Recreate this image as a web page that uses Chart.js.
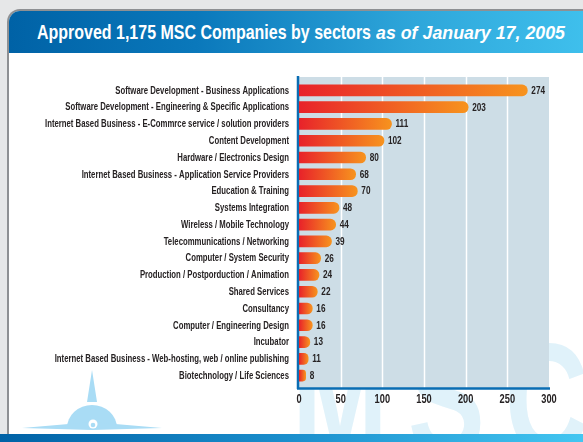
<!DOCTYPE html>
<html>
<head>
<meta charset="utf-8">
<script src="https://cdn.jsdelivr.net/npm/chart.js@4.4.1/dist/chart.umd.min.js"></script>
<style>
  html, body { margin: 0; padding: 0; }
  body { width: 583px; height: 442px; overflow: hidden; background: #e6e7e8; position: relative; font-family: "Liberation Sans", Arial, sans-serif; }
  #panel { position: absolute; left: 7px; top: 9px; width: 620px; height: 460px; background: #ffffff; border-left: 2px solid #8e9093; border-top: 2px solid #8e9093; border-top-left-radius: 13px; overflow: hidden; }
  #header { position: absolute; left: 0; top: 0; width: 100%; height: 42px; background: linear-gradient(to right, #0062a6 0%, #0a78bb 30%, #2ea6da 65%, #43c6f1 100%); }
  .tpart { position: absolute; top: 9px; color: #ffffff; font-weight: bold; white-space: nowrap; transform-origin: left top; line-height: 24px; }
  #t1 { left: 28px; font-size: 21px; }
  #t2 { left: 367px; top: 10px; font-size: 19px; font-style: italic; }
  #watermark { position: absolute; left: 292px; top: 319px; font-family: "Liberation Sans", Arial, sans-serif; font-weight: bold; font-size: 160px; letter-spacing: 28px; color: #e0f2fa; white-space: nowrap; line-height: 1; transform: scaleX(0.72); transform-origin: left top; }
  #footer { position: absolute; left: 0; top: 434px; width: 583px; height: 8px; background: linear-gradient(to right, #0062a6 0%, #1b8fcd 50%, #43c6f1 100%); }
  #logo { position: absolute; left: 0; top: 360px; }
  #c { position: absolute; left: 0; top: 0; }
</style>
</head>
<body>
<div id="panel">
  <div id="header">
    <span id="t1" class="tpart">Approved 1,175 MSC Companies by sectors</span>
    <span id="t2" class="tpart">as of January 17, 2005</span>
  </div>
</div>
<div id="watermark">MSC</div>
<svg id="logo" width="200" height="80" viewBox="0 360 200 80">
  <g fill="#a9dcf5">
    <polygon points="92,370 87,402 97,402"/>
    <path d="M67,428 A25,23 0 0 1 117,428 Z"/>
    <polygon points="22,428 92,422 162,428 92,430"/>
  </g>
  <circle cx="93" cy="424" r="4.5" fill="#ffffff"/>
  <circle cx="93" cy="425" r="2.3" fill="#a9dcf5"/>
</svg>
<div id="footer"></div>
<canvas id="c" width="583" height="442"></canvas>
<script>
const categories = [
  "Software Development - Business Applications",
  "Software Development - Engineering & Specific Applications",
  "Internet Based Business - E-Commrce service / solution providers",
  "Content Development",
  "Hardware / Electronics Design",
  "Internet Based Business - Application Service Providers",
  "Education & Training",
  "Systems Integration",
  "Wireless / Mobile Technology",
  "Telecommunications / Networking",
  "Computer / System Security",
  "Production / Postporduction / Animation",
  "Shared Services",
  "Consultancy",
  "Computer / Engineering Design",
  "Incubator",
  "Internet Based Business - Web-hosting, web / online publishing",
  "Biotechnology / Life Sciences"
];
const companies = [274, 203, 111, 102, 80, 68, 70, 48, 44, 39, 26, 24, 22, 16, 16, 13, 11, 8];
const xTicks = [0, 50, 100, 150, 200, 250, 300];

// condense the title parts to the widths seen in the header
(function () {
  [['t1', 334], ['t2', 189]].forEach(([id, target]) => {
    const el = document.getElementById(id);
    const w = el.getBoundingClientRect().width;
    el.style.transform = 'scaleX(' + (target / w) + ')';
  });
})();

const FONT = '"Liberation Sans", Arial, sans-serif';
const TEXT = '#262223';

function narrowText(ctx, str, x, y, align, sx) {
  ctx.save();
  ctx.translate(x, y);
  ctx.scale(sx, 1);
  ctx.textAlign = align;
  ctx.fillText(str, 0, 0);
  ctx.restore();
}

const plotDecor = {
  id: 'plotDecor',
  beforeDatasetsDraw(chart) {
    const {ctx, chartArea: a, scales: {x}} = chart;
    const top = a.top - 5, bottom = a.bottom + 4;
    ctx.save();
    ctx.fillStyle = '#cddde6';
    ctx.fillRect(a.left, top, a.right - a.left, bottom - top);
    ctx.strokeStyle = '#ffffff';
    ctx.lineWidth = 1.5;
    xTicks.slice(1, -1).forEach(v => {
      const px = Math.round(x.getPixelForValue(v)) + 0.5;
      ctx.beginPath(); ctx.moveTo(px, top); ctx.lineTo(px, bottom); ctx.stroke();
    });
    ctx.strokeStyle = '#0a6db3';
    ctx.lineWidth = 2.5;
    ctx.beginPath(); ctx.moveTo(a.left - 1, top - 1); ctx.lineTo(a.left - 1, bottom + 1); ctx.stroke();
    ctx.beginPath(); ctx.moveTo(a.left - 2, bottom + 0.5); ctx.lineTo(a.right + 1, bottom + 0.5); ctx.stroke();
    ctx.restore();
  },
  afterDatasetsDraw(chart) {
    const {ctx, chartArea: a, scales: {x, y}} = chart;
    const meta = chart.getDatasetMeta(0);
    ctx.save();
    ctx.fillStyle = TEXT;
    ctx.textBaseline = 'middle';
    // value labels
    ctx.font = 'bold 10.5px ' + FONT;
    meta.data.forEach((bar, i) => {
      narrowText(ctx, String(companies[i]), bar.x + 4, bar.y + 0.5, 'left', 0.78);
    });
    // category labels
    ctx.font = 'bold 10px ' + FONT;
    const longest = Math.max(...categories.map(c => ctx.measureText(c).width));
    const sx = 244 / longest;
    categories.forEach((c, i) => {
      narrowText(ctx, c, a.left - 10, y.getPixelForTick(i) + 0.5, 'right', sx);
    });
    // x tick labels
    ctx.font = 'bold 12.5px ' + FONT;
    xTicks.forEach(v => {
      narrowText(ctx, String(v), x.getPixelForValue(v), a.bottom + 16, 'center', 0.74);
    });
    ctx.restore();
  }
};

new Chart(document.getElementById('c'), {
  type: 'bar',
  data: {
    labels: categories,
    datasets: [{
      data: companies,
      barThickness: 11,
      borderRadius: 6,
      borderSkipped: 'start',
      backgroundColor(context) {
        const chart = context.chart;
        if (!chart.chartArea) return '#ee5a24';
        const x = chart.scales.x;
        const x0 = x.getPixelForValue(0);
        const x1 = Math.max(x.getPixelForValue(context.raw), x0 + 1);
        const g = chart.ctx.createLinearGradient(x0, 0, x1, 0);
        g.addColorStop(0, '#e8222a');
        g.addColorStop(1, '#f7931e');
        return g;
      }
    }]
  },
  options: {
    indexAxis: 'y',
    responsive: false,
    animation: false,
    layout: { padding: { top: 82, right: 34, bottom: 0, left: 0 } },
    plugins: { legend: { display: false }, tooltip: { enabled: false } },
    scales: {
      x: {
        min: 0, max: 300,
        grid: { display: false, drawTicks: false },
        border: { display: false },
        afterBuildTicks(axis) { axis.ticks = xTicks.map(v => ({ value: v })); },
        afterFit(axis) { axis.height = 58; },
        ticks: { display: false }
      },
      y: {
        grid: { display: false, drawTicks: false },
        border: { display: false },
        afterFit(axis) { axis.width = 299; },
        ticks: { display: false, autoSkip: false }
      }
    }
  },
  plugins: [plotDecor]
});
</script>
</body>
</html>
